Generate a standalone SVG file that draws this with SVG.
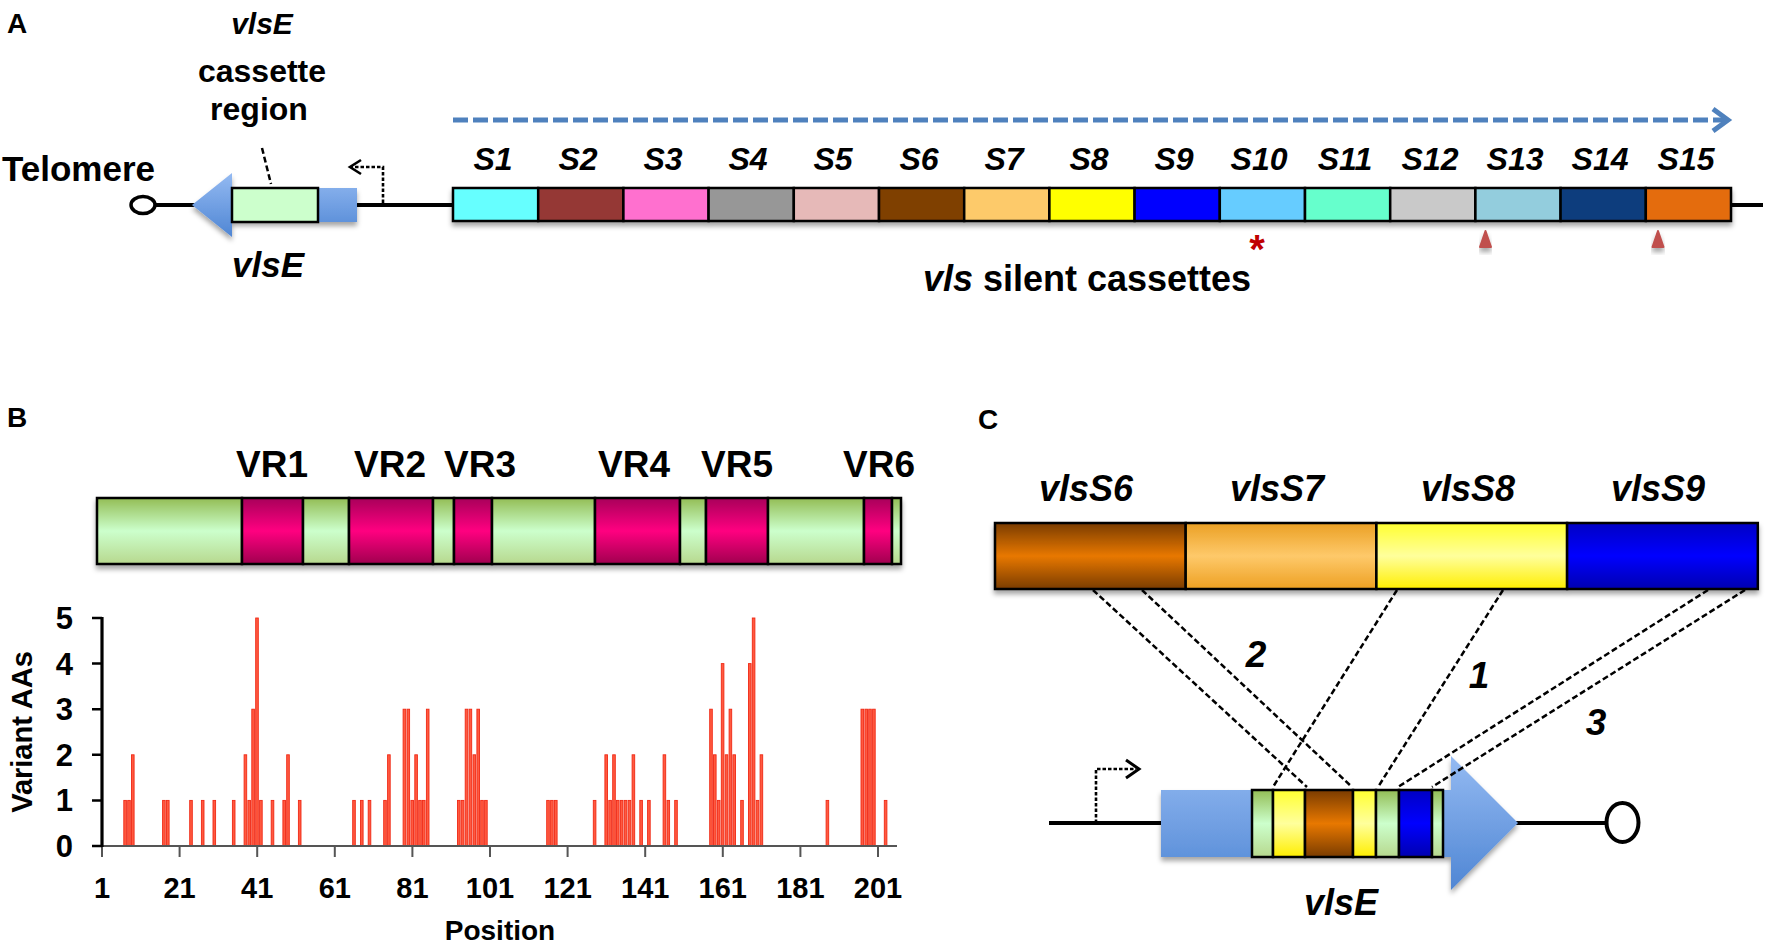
<svg xmlns="http://www.w3.org/2000/svg" width="1772" height="951" viewBox="0 0 1772 951">
<defs>
<style>
text{font-family:"Liberation Sans",Arial,sans-serif;font-weight:bold;fill:#000}
.it{font-style:italic}
.box{stroke:#000;stroke-width:2.5}
.bline{stroke:#000;stroke-width:4;fill:none}
.dash{stroke:#000;stroke-width:2.5;stroke-dasharray:6 3;fill:none}
.dot{stroke:#000;stroke-width:2.6;stroke-dasharray:3.5 2;fill:none}
.bar{fill:#ff5a40;stroke:#f02814;stroke-width:0.9}
.ax{stroke:#555;stroke-width:2;fill:none}
</style>
<filter id="sh" x="-5%" y="-20%" width="110%" height="170%"><feDropShadow dx="0" dy="4" stdDeviation="2.5" flood-color="#000" flood-opacity="0.35"/></filter>
<linearGradient id="gBlue" x1="0" y1="0" x2="0" y2="1"><stop offset="0" stop-color="#94baf2"/><stop offset="1" stop-color="#4f86d4"/></linearGradient>
<linearGradient id="gGreen" x1="0" y1="0" x2="0" y2="1"><stop offset="0" stop-color="#93bd55"/><stop offset="0.5" stop-color="#ccffcc"/><stop offset="1" stop-color="#b7d88e"/></linearGradient>
<linearGradient id="gPink" x1="0" y1="0" x2="0" y2="1"><stop offset="0" stop-color="#a8005a"/><stop offset="0.5" stop-color="#ff0080"/><stop offset="1" stop-color="#a0004f"/></linearGradient>
<linearGradient id="gBrown" x1="0" y1="0" x2="0" y2="1"><stop offset="0" stop-color="#7a3c00"/><stop offset="0.5" stop-color="#e87800"/><stop offset="1" stop-color="#7a3c00"/></linearGradient>
<linearGradient id="gOrange" x1="0" y1="0" x2="0" y2="1"><stop offset="0" stop-color="#eba024"/><stop offset="0.5" stop-color="#fec96a"/><stop offset="1" stop-color="#eda022"/></linearGradient>
<linearGradient id="gYellow" x1="0" y1="0" x2="0" y2="1"><stop offset="0" stop-color="#ffff30"/><stop offset="0.5" stop-color="#ffff9c"/><stop offset="1" stop-color="#ffee00"/></linearGradient>
<linearGradient id="gDBlue" x1="0" y1="0" x2="0" y2="1"><stop offset="0" stop-color="#0000c4"/><stop offset="0.5" stop-color="#0000ff"/><stop offset="1" stop-color="#0000b0"/></linearGradient>
</defs>
<rect width="1772" height="951" fill="#fff"/>

<!-- Panel labels -->
<text x="7" y="33" font-size="28">A</text>
<text x="7" y="427" font-size="28">B</text>
<text x="978" y="429" font-size="28">C</text>

<!-- ============ PANEL A ============ -->
<g id="chromosome-line-A"><line class="bline" x1="155" y1="205" x2="1763" y2="205"/></g>
<g id="telomere-A">
<ellipse cx="143" cy="205" rx="12" ry="8.5" fill="#fff" stroke="#000" stroke-width="3.5"/>
<text x="2" y="181" font-size="35">Telomere</text>
</g>
<g id="vlsE-A">
<path d="M192,205 L232,173 L232,188 L357,188 L357,222 L232,222 L232,237 Z" fill="url(#gBlue)" filter="url(#sh)"/>
<rect class="box" x="232" y="188" width="86" height="34" fill="#ccffcc"/>
<text class="it" x="268" y="277" font-size="35" text-anchor="middle">vlsE</text>
</g>
<g id="cassette-region-label">
<text class="it" x="262" y="34" font-size="30" text-anchor="middle">vlsE</text>
<text x="262" y="82" font-size="32" text-anchor="middle">cassette</text>
<text x="259" y="120" font-size="32" text-anchor="middle">region</text>
</g>
<g id="promoter-A">
<path class="dot" d="M383,203 V167 H351"/>
<path d="M361,160 L350,167 L361,174" fill="none" stroke="#000" stroke-width="2.6"/>
</g>

<g id="silent-cassettes" filter="url(#sh)">
<g id="S1"><rect class="box" x="453" y="188" width="85.2" height="33" fill="#66ffff"/></g>
<g id="S2"><rect class="box" x="538.2" y="188" width="85.2" height="33" fill="#953735"/></g>
<g id="S3"><rect class="box" x="623.4" y="188" width="85.2" height="33" fill="#ff6fcf"/></g>
<g id="S4"><rect class="box" x="708.6" y="188" width="85.2" height="33" fill="#979797"/></g>
<g id="S5"><rect class="box" x="793.8" y="188" width="85.2" height="33" fill="#e6b9b8"/></g>
<g id="S6"><rect class="box" x="879" y="188" width="85.2" height="33" fill="#7f3f00"/></g>
<g id="S7"><rect class="box" x="964.2" y="188" width="85.2" height="33" fill="#fdca6a"/></g>
<g id="S8"><rect class="box" x="1049.4" y="188" width="85.2" height="33" fill="#ffff00"/></g>
<g id="S9"><rect class="box" x="1134.6" y="188" width="85.2" height="33" fill="#0000ff"/></g>
<g id="S10"><rect class="box" x="1219.8" y="188" width="85.2" height="33" fill="#66ccff"/></g>
<g id="S11"><rect class="box" x="1305" y="188" width="85.2" height="33" fill="#66ffcc"/></g>
<g id="S12"><rect class="box" x="1390.2" y="188" width="85.2" height="33" fill="#c9c9c9"/></g>
<g id="S13"><rect class="box" x="1475.4" y="188" width="85.2" height="33" fill="#93cddd"/></g>
<g id="S14"><rect class="box" x="1560.6" y="188" width="85.2" height="33" fill="#0b3d7d"/></g>
<g id="S15"><rect class="box" x="1645.8" y="188" width="85.2" height="33" fill="#e46c0a"/></g>
</g>
<g id="S-labels" font-size="32">
<text class="it" x="493" y="170" text-anchor="middle">S1</text>
<text class="it" x="578" y="170" text-anchor="middle">S2</text>
<text class="it" x="663" y="170" text-anchor="middle">S3</text>
<text class="it" x="748" y="170" text-anchor="middle">S4</text>
<text class="it" x="833" y="170" text-anchor="middle">S5</text>
<text class="it" x="919" y="170" text-anchor="middle">S6</text>
<text class="it" x="1004" y="170" text-anchor="middle">S7</text>
<text class="it" x="1089" y="170" text-anchor="middle">S8</text>
<text class="it" x="1174" y="170" text-anchor="middle">S9</text>
<text class="it" x="1259" y="170" text-anchor="middle">S10</text>
<text class="it" x="1345" y="170" text-anchor="middle">S11</text>
<text class="it" x="1430" y="170" text-anchor="middle">S12</text>
<text class="it" x="1515" y="170" text-anchor="middle">S13</text>
<text class="it" x="1600" y="170" text-anchor="middle">S14</text>
<text class="it" x="1686" y="170" text-anchor="middle">S15</text>
</g>
<g id="markers-A">
<text x="1257" y="263" font-size="40" text-anchor="middle" style="fill:#c00000">*</text>
<path d="M1480,247 L1491,247 L1485.5,231 Z" fill="#c0504d" stroke="#c0504d" stroke-width="2" stroke-linejoin="round" filter="url(#sh)"/>
<path d="M1652.5,247 L1663.5,247 L1658,231 Z" fill="#c0504d" stroke="#c0504d" stroke-width="2" stroke-linejoin="round" filter="url(#sh)"/>
</g>
<g id="silent-label"><text x="1087" y="291" font-size="36" text-anchor="middle"><tspan class="it">vls</tspan> silent cassettes</text></g>

<!-- ============ PANEL B ============ -->
<g id="VR-labels" font-size="37" text-anchor="middle">
<text x="272" y="477">VR1</text>
<text x="390" y="477">VR2</text>
<text x="480" y="477">VR3</text>
<text x="634" y="477">VR4</text>
<text x="737" y="477">VR5</text>
<text x="879" y="477">VR6</text>
</g>
<g id="vlsE-protein" filter="url(#sh)">
<rect class="box" x="97" y="498" width="145" height="66" fill="url(#gGreen)"/>
<rect class="box" x="242" y="498" width="61" height="66" fill="url(#gPink)"/>
<rect class="box" x="303" y="498" width="46" height="66" fill="url(#gGreen)"/>
<rect class="box" x="349" y="498" width="84" height="66" fill="url(#gPink)"/>
<rect class="box" x="433" y="498" width="21" height="66" fill="url(#gGreen)"/>
<rect class="box" x="454" y="498" width="38" height="66" fill="url(#gPink)"/>
<rect class="box" x="492" y="498" width="103" height="66" fill="url(#gGreen)"/>
<rect class="box" x="595" y="498" width="85" height="66" fill="url(#gPink)"/>
<rect class="box" x="680" y="498" width="26" height="66" fill="url(#gGreen)"/>
<rect class="box" x="706" y="498" width="62" height="66" fill="url(#gPink)"/>
<rect class="box" x="768" y="498" width="96" height="66" fill="url(#gGreen)"/>
<rect class="box" x="864" y="498" width="28" height="66" fill="url(#gPink)"/>
<rect class="box" x="892" y="498" width="9" height="66" fill="url(#gGreen)"/>
</g>

<g id="chart-B">
<g id="bars">
<rect class="bar" x="123.8" y="800.4" width="2.6" height="45.6"/>
<rect class="bar" x="127.7" y="800.4" width="2.6" height="45.6"/>
<rect class="bar" x="131.5" y="754.8" width="2.6" height="91.2"/>
<rect class="bar" x="162.6" y="800.4" width="2.6" height="45.6"/>
<rect class="bar" x="166.5" y="800.4" width="2.6" height="45.6"/>
<rect class="bar" x="189.7" y="800.4" width="2.6" height="45.6"/>
<rect class="bar" x="201.4" y="800.4" width="2.6" height="45.6"/>
<rect class="bar" x="213.0" y="800.4" width="2.6" height="45.6"/>
<rect class="bar" x="232.4" y="800.4" width="2.6" height="45.6"/>
<rect class="bar" x="244.1" y="754.8" width="2.6" height="91.2"/>
<rect class="bar" x="247.9" y="800.4" width="2.6" height="45.6"/>
<rect class="bar" x="251.8" y="709.2" width="2.6" height="136.8"/>
<rect class="bar" x="255.7" y="618" width="2.6" height="228"/>
<rect class="bar" x="259.6" y="800.4" width="2.6" height="45.6"/>
<rect class="bar" x="271.2" y="800.4" width="2.6" height="45.6"/>
<rect class="bar" x="282.9" y="800.4" width="2.6" height="45.6"/>
<rect class="bar" x="286.7" y="754.8" width="2.6" height="91.2"/>
<rect class="bar" x="298.4" y="800.4" width="2.6" height="45.6"/>
<rect class="bar" x="352.7" y="800.4" width="2.6" height="45.6"/>
<rect class="bar" x="360.5" y="800.4" width="2.6" height="45.6"/>
<rect class="bar" x="368.2" y="800.4" width="2.6" height="45.6"/>
<rect class="bar" x="383.7" y="800.4" width="2.6" height="45.6"/>
<rect class="bar" x="387.6" y="754.8" width="2.6" height="91.2"/>
<rect class="bar" x="403.1" y="709.2" width="2.6" height="136.8"/>
<rect class="bar" x="407.0" y="709.2" width="2.6" height="136.8"/>
<rect class="bar" x="410.9" y="800.4" width="2.6" height="45.6"/>
<rect class="bar" x="414.8" y="754.8" width="2.6" height="91.2"/>
<rect class="bar" x="418.7" y="800.4" width="2.6" height="45.6"/>
<rect class="bar" x="422.5" y="800.4" width="2.6" height="45.6"/>
<rect class="bar" x="426.4" y="709.2" width="2.6" height="136.8"/>
<rect class="bar" x="457.5" y="800.4" width="2.6" height="45.6"/>
<rect class="bar" x="461.3" y="800.4" width="2.6" height="45.6"/>
<rect class="bar" x="465.2" y="709.2" width="2.6" height="136.8"/>
<rect class="bar" x="469.1" y="709.2" width="2.6" height="136.8"/>
<rect class="bar" x="473.0" y="754.8" width="2.6" height="91.2"/>
<rect class="bar" x="476.9" y="709.2" width="2.6" height="136.8"/>
<rect class="bar" x="480.7" y="800.4" width="2.6" height="45.6"/>
<rect class="bar" x="484.6" y="800.4" width="2.6" height="45.6"/>
<rect class="bar" x="546.7" y="800.4" width="2.6" height="45.6"/>
<rect class="bar" x="550.6" y="800.4" width="2.6" height="45.6"/>
<rect class="bar" x="554.5" y="800.4" width="2.6" height="45.6"/>
<rect class="bar" x="593.3" y="800.4" width="2.6" height="45.6"/>
<rect class="bar" x="604.9" y="754.8" width="2.6" height="91.2"/>
<rect class="bar" x="608.8" y="800.4" width="2.6" height="45.6"/>
<rect class="bar" x="612.7" y="754.8" width="2.6" height="91.2"/>
<rect class="bar" x="616.5" y="800.4" width="2.6" height="45.6"/>
<rect class="bar" x="620.4" y="800.4" width="2.6" height="45.6"/>
<rect class="bar" x="624.3" y="800.4" width="2.6" height="45.6"/>
<rect class="bar" x="628.2" y="800.4" width="2.6" height="45.6"/>
<rect class="bar" x="632.1" y="754.8" width="2.6" height="91.2"/>
<rect class="bar" x="639.8" y="800.4" width="2.6" height="45.6"/>
<rect class="bar" x="647.6" y="800.4" width="2.6" height="45.6"/>
<rect class="bar" x="663.1" y="754.8" width="2.6" height="91.2"/>
<rect class="bar" x="667.0" y="800.4" width="2.6" height="45.6"/>
<rect class="bar" x="674.7" y="800.4" width="2.6" height="45.6"/>
<rect class="bar" x="709.7" y="709.2" width="2.6" height="136.8"/>
<rect class="bar" x="713.5" y="754.8" width="2.6" height="91.2"/>
<rect class="bar" x="717.4" y="800.4" width="2.6" height="45.6"/>
<rect class="bar" x="721.3" y="663.6" width="2.6" height="182.4"/>
<rect class="bar" x="725.2" y="754.8" width="2.6" height="91.2"/>
<rect class="bar" x="729.1" y="709.2" width="2.6" height="136.8"/>
<rect class="bar" x="732.9" y="754.8" width="2.6" height="91.2"/>
<rect class="bar" x="740.7" y="800.4" width="2.6" height="45.6"/>
<rect class="bar" x="748.5" y="663.6" width="2.6" height="182.4"/>
<rect class="bar" x="752.3" y="618" width="2.6" height="228"/>
<rect class="bar" x="756.2" y="800.4" width="2.6" height="45.6"/>
<rect class="bar" x="760.1" y="754.8" width="2.6" height="91.2"/>
<rect class="bar" x="826.1" y="800.4" width="2.6" height="45.6"/>
<rect class="bar" x="861.0" y="709.2" width="2.6" height="136.8"/>
<rect class="bar" x="864.9" y="709.2" width="2.6" height="136.8"/>
<rect class="bar" x="868.7" y="709.2" width="2.6" height="136.8"/>
<rect class="bar" x="872.6" y="709.2" width="2.6" height="136.8"/>
<rect class="bar" x="884.3" y="800.4" width="2.6" height="45.6"/>
</g>
<g id="axes">
<line class="ax" x1="101" y1="846" x2="897" y2="846"/>
<path class="ax" d="M102,846 V857 M179.6,846 V857 M257.2,846 V857 M334.8,846 V857 M412.4,846 V857 M490,846 V857 M567.6,846 V857 M645.2,846 V857 M722.8,846 V857 M800.4,846 V857 M878,846 V857"/>
<line x1="102" y1="617" x2="102" y2="847" stroke="#000" stroke-width="3.2"/>
<path d="M92,618 H102 M92,663.6 H102 M92,709.2 H102 M92,754.8 H102 M92,800.4 H102 M92,846 H102" stroke="#000" stroke-width="2.5"/>
</g>
<g id="y-labels" font-size="31" text-anchor="end">
<text x="73" y="629">5</text>
<text x="73" y="674.6">4</text>
<text x="73" y="720.2">3</text>
<text x="73" y="765.8">2</text>
<text x="73" y="811.4">1</text>
<text x="73" y="857">0</text>
</g>
<g id="x-labels" font-size="29" text-anchor="middle">
<text x="102" y="898">1</text>
<text x="179.6" y="898">21</text>
<text x="257.2" y="898">41</text>
<text x="334.8" y="898">61</text>
<text x="412.4" y="898">81</text>
<text x="490" y="898">101</text>
<text x="567.6" y="898">121</text>
<text x="645.2" y="898">141</text>
<text x="722.8" y="898">161</text>
<text x="800.4" y="898">181</text>
<text x="878" y="898">201</text>
</g>
<text x="500" y="940" font-size="28" text-anchor="middle">Position</text>
<text transform="translate(32,732) rotate(-90)" font-size="29" text-anchor="middle">Variant AAs</text>
</g>

<!-- ============ PANEL C ============ -->
<g id="silent-C-labels" font-size="36" text-anchor="middle">
<text class="it" x="1086" y="501">vlsS6</text>
<text class="it" x="1277" y="501">vlsS7</text>
<text class="it" x="1468" y="501">vlsS8</text>
<text class="it" x="1658" y="501">vlsS9</text>
</g>
<g id="silent-C" filter="url(#sh)">
<g id="vlsS6"><rect class="box" x="995" y="523" width="190.7" height="66" fill="url(#gBrown)"/></g>
<g id="vlsS7"><rect class="box" x="1185.7" y="523" width="190.7" height="66" fill="url(#gOrange)"/></g>
<g id="vlsS8"><rect class="box" x="1376.4" y="523" width="190.7" height="66" fill="url(#gYellow)"/></g>
<g id="vlsS9"><rect class="box" x="1567.1" y="523" width="190.7" height="66" fill="url(#gDBlue)"/></g>
</g>

<g id="expression-site-C">
<line class="bline" x1="1049" y1="823" x2="1165" y2="823"/>
<line class="bline" x1="1510" y1="823" x2="1605" y2="823"/>
<ellipse cx="1622.5" cy="822.5" rx="16" ry="19.5" fill="#fff" stroke="#000" stroke-width="4"/>
<path class="dot" d="M1096,823 V769 H1136" stroke-width="3"/>
<path d="M1126,760 L1139,769 L1126,778" fill="none" stroke="#000" stroke-width="3"/>
<path d="M1161,790 H1451 V756 L1518,823 L1451,890 V857 H1161 Z" fill="url(#gBlue)" filter="url(#sh)"/>
<g id="vlsE-cassettes-C">
<rect class="box" x="1252" y="790" width="21" height="67" fill="url(#gGreen)"/>
<rect class="box" x="1273" y="790" width="32" height="67" fill="url(#gYellow)"/>
<rect class="box" x="1305" y="790" width="48" height="67" fill="url(#gBrown)"/>
<rect class="box" x="1353" y="790" width="23" height="67" fill="url(#gYellow)"/>
<rect class="box" x="1376" y="790" width="23" height="67" fill="url(#gGreen)"/>
<rect class="box" x="1399" y="790" width="33" height="67" fill="url(#gDBlue)"/>
<rect class="box" x="1432" y="790" width="11" height="67" fill="url(#gGreen)"/>
</g>
<text class="it" x="1341" y="915" font-size="36" text-anchor="middle">vlsE</text>
</g>

<!-- ============ CONNECTORS ============ -->
<g id="connectors">
<line x1="453" y1="120" x2="1724" y2="120" stroke="#4f81bd" stroke-width="5" stroke-dasharray="15 5"/>
<path d="M1713,109 L1728,120 L1713,131" fill="none" stroke="#4f81bd" stroke-width="5"/>
<line class="dash" x1="262" y1="148" x2="271" y2="184"/>
<line class="dash" x1="1093" y1="590" x2="1307" y2="787"/>
<line class="dash" x1="1142" y1="590" x2="1352" y2="787"/>
<line class="dash" x1="1397" y1="590" x2="1273" y2="787"/>
<line class="dash" x1="1503" y1="590" x2="1378" y2="787"/>
<line class="dash" x1="1708" y1="590" x2="1398" y2="787"/>
<line class="dash" x1="1745" y1="590" x2="1432" y2="787"/>
</g>
<g id="connector-labels" font-size="37">
<text class="it" x="1256" y="667" text-anchor="middle">2</text>
<text class="it" x="1479" y="688" text-anchor="middle">1</text>
<text class="it" x="1596" y="735" text-anchor="middle">3</text>
</g>
</svg>
